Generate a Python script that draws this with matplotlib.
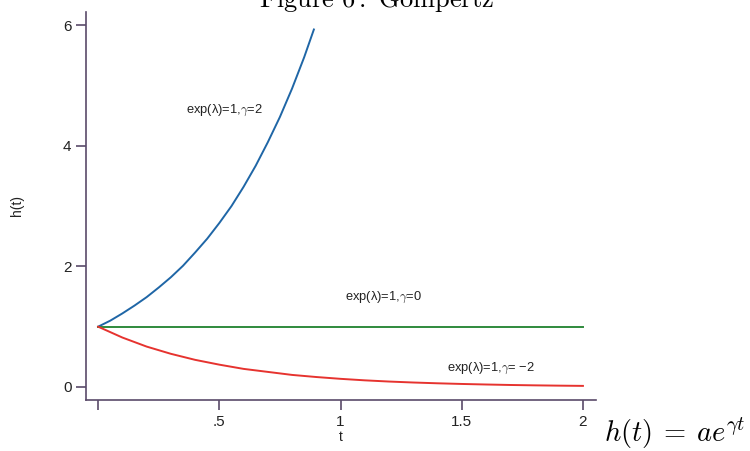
import matplotlib
matplotlib.use("Agg")
import matplotlib.pyplot as plt

plt.rcParams['font.family'] = ['Liberation Sans', 'DejaVu Sans']
plt.rcParams['mathtext.fontset'] = 'cm'

'''Values read off the reference picture'''
t_up = [0, 0.05, 0.1, 0.15, 0.2, 0.25, 0.3, 0.35, 0.4, 0.45, 0.5,
        0.55, 0.6, 0.65, 0.7, 0.75, 0.8, 0.85, 0.89]
h_up = [1.0, 1.1, 1.22, 1.35, 1.49, 1.65, 1.82, 2.01, 2.23, 2.46, 2.72,
        3.0, 3.32, 3.67, 4.06, 4.48, 4.95, 5.47, 5.93]

t_flat = [0, 2]
h_flat = [1.0, 1.0]

t_down = [0, 0.1, 0.2, 0.3, 0.4, 0.5, 0.6, 0.7, 0.8, 0.9, 1.0,
          1.1, 1.2, 1.3, 1.4, 1.5, 1.6, 1.7, 1.8, 1.9, 2.0]
h_down = [1.0, 0.82, 0.67, 0.55, 0.45, 0.37, 0.3, 0.25, 0.2, 0.165, 0.135,
          0.11, 0.09, 0.074, 0.061, 0.05, 0.041, 0.033, 0.027, 0.022, 0.018]

x_ticks = [0, 0.5, 1, 1.5, 2]
x_ticklabels = ["", ".5", "1", "1.5", "2"]
y_ticks = [0, 2, 4, 6]

labels = ["exp(\u03bb)=1,$\\gamma$=2", "exp(\u03bb)=1,$\\gamma$=0",
          "exp(\u03bb)=1,$\\gamma$= \u22122"]
label_pos = [(0.52, 4.59), (1.175, 1.48), (1.62, 0.31)]

spine_col = "#5a4a6a"

fig = plt.figure(figsize=(7.5, 4.51), dpi=100)
ax = fig.add_axes([0.1147, 0.1131, 0.68, 0.8603])

ax.plot(t_up, h_up, color="#1f66a6", lw=1.4)
ax.plot(t_flat, h_flat, color="#2f8a3c", lw=1.4)
ax.plot(t_down, h_down, color="#e6332f", lw=1.4)

for txt, (x, y) in zip(labels, label_pos):
    ax.text(x, y, txt, fontsize=9.3, ha="center", va="center", color="#222222")

ax.set_xlim(-0.05, 2.054)
ax.set_ylim(-0.216, 6.22)
ax.set_xticks(x_ticks)
ax.set_xticklabels(x_ticklabels)
ax.set_yticks(y_ticks)

for s in ["top", "right"]:
    ax.spines[s].set_visible(False)
for s in ["left", "bottom"]:
    ax.spines[s].set_color(spine_col)
    ax.spines[s].set_linewidth(1.2)
ax.tick_params(direction="out", length=7, width=1.2, color=spine_col,
               labelsize=11, labelcolor="#222222")

ax.set_xlabel("t", fontsize=10, labelpad=1, color="#222222")
ax.set_ylabel("h(t)", fontsize=10, labelpad=28, color="#222222")

# title is clipped at the top edge, as in the original
fig.text(0.502, 1.0, r"$\mathrm{Figure\ 6{:}\ Gompertz}$", fontsize=19,
         ha="center", va="center")
fig.text(0.9, 0.04, r"$h(t)\:=\:ae^{\gamma t}$", fontsize=20.5,
         ha="center", va="center")

fig.savefig("out.png", dpi=100)
